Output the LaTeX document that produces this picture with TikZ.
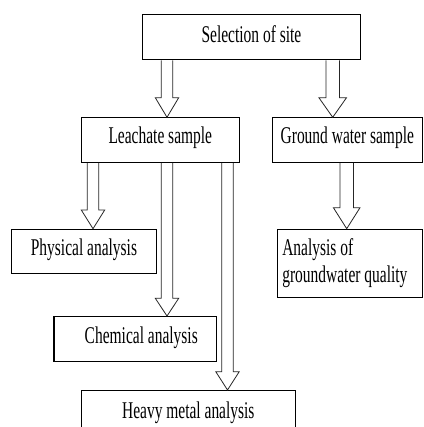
\documentclass[tikz,border=0pt]{standalone}
\usepackage{fontspec}
\setmainfont{Liberation Serif}[FakeStretch=0.645]
\usetikzlibrary{calc}
\tikzset{
  box/.style={draw=black, line width=1.2pt, rectangle, inner xsep=0pt, inner ysep=0pt,
    anchor=north west, font=\fontsize{24}{27.4}\selectfont},
  arrowline/.style={draw=black!85, line width=0.8pt, line join=miter}
}
\newcommand\blockarrow[6]{%
  \draw[arrowline] let \p1=(#1.south), \p2=(#2.north) in
    ({#3pt-#4pt},\y1) -- ({#3pt-#4pt},{\y2+#6pt}) -- ({#3pt-#5pt},{\y2+#6pt})
    -- ({#3pt},\y2) -- ({#3pt+#5pt},{\y2+#6pt}) -- ({#3pt+#4pt},{\y2+#6pt})
    -- ({#3pt+#4pt},\y1);}
\begin{document}
\begin{tikzpicture}[x=1pt,y=-1pt]
\clip (0,0) rectangle (423,427);
\fill[white] (0,0) rectangle (423,427);
\node[box, minimum width=218.3pt, text height=27.7pt, text depth=17.6pt] (sel) at (141.7,14) {Selection of site};
\node[box, minimum width=158pt, text height=26pt, text depth=18.4pt] (leach) at (80.7,117.3) {Leachate sample};
\node[box, minimum width=150pt, text height=26pt, text depth=18.4pt] (gw) at (271.7,117.3) {Ground water sample};
\node[box, minimum width=144.7pt, text height=26.3pt, text depth=17.7pt] (phys) at (11,228.7) {Physical analysis};
\node[box, minimum width=145pt, minimum height=68pt, inner xsep=5pt, text width=135pt, align=flush left] (ana) at (276.7,228.7) {Analysis of\\groundwater quality};
\node[box, minimum width=162.7pt, text height=27.3pt, text depth=17.4pt] (chem) at (53.3,316) {\hspace*{12pt}Chemical analysis};
\node[box, minimum width=214pt, text height=28.3pt, text depth=17pt] (heavy) at (80.7,390) {Heavy metal analysis};
\blockarrow{sel}{leach}{167}{5.7}{11.7}{19.6}
\blockarrow{sel}{gw}{332.7}{6.7}{13.8}{19.6}
\blockarrow{leach}{phys}{93}{5.7}{11.7}{18.7}
\blockarrow{leach}{chem}{167}{5.7}{11.7}{17.7}
\blockarrow{leach}{heavy}{227.5}{5.8}{11.7}{18.3}
\blockarrow{gw}{ana}{346.7}{6.7}{13.3}{21}
\end{tikzpicture}
\end{document}
